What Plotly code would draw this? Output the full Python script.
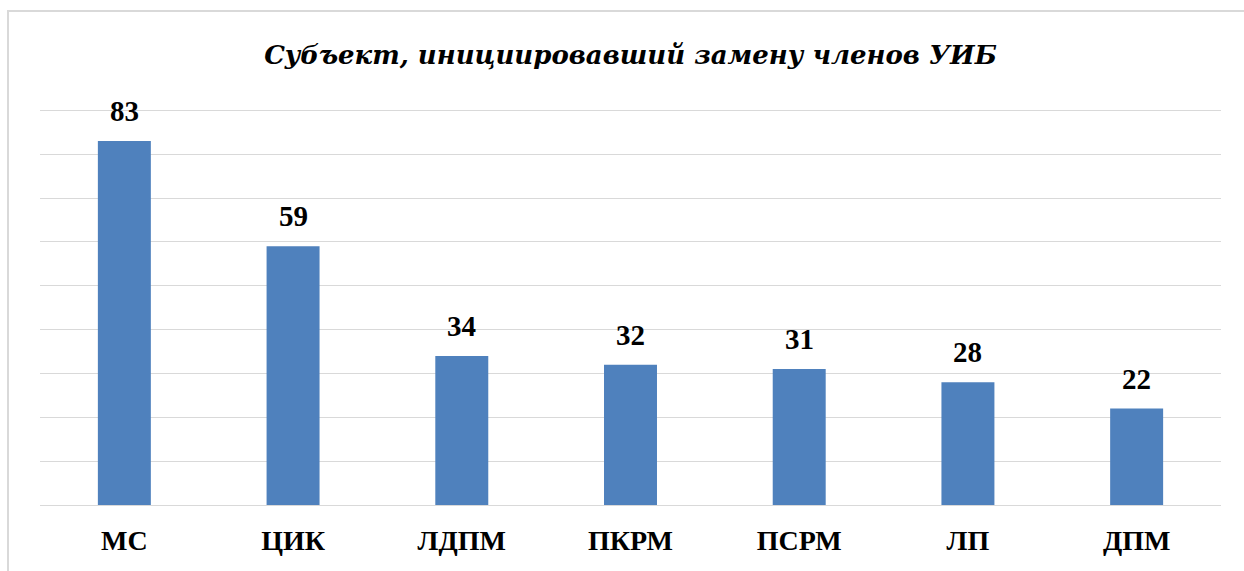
import plotly.graph_objects as go

categories = ["МС", "ЦИК", "ЛДПМ", "ПКРМ", "ПСРМ", "ЛП", "ДПМ"]
values = [83, 59, 34, 32, 31, 28, 22]
title_text = "Субъект, инициировавший замену членов УИБ"

serif = "'Liberation Serif', 'DejaVu Serif', serif"
title_font = "'DejaVu Serif', serif"

fig = go.Figure(
    go.Bar(
        x=categories,
        y=values,
        marker=dict(color="#4F81BD", line=dict(width=0)),
        cliponaxis=False,
        hoverinfo="x+y",
    )
)

for c, v in zip(categories, values):
    fig.add_annotation(
        x=c, y=v, xref="x", yref="y",
        text="<b>" + str(v) + "</b>",
        showarrow=False,
        yanchor="bottom",
        yshift=12,
        font=dict(family=serif, size=29, color="#000000"),
    )

fig.update_layout(
    width=1244,
    height=571,
    margin=dict(l=40, r=23, t=106, b=66),
    paper_bgcolor="#FFFFFF",
    plot_bgcolor="#FFFFFF",
    bargap=0.686,
    showlegend=False,
    title=dict(
        text="<b><i>" + title_text + "</i></b>",
        x=0.5,
        xref="paper",
        xanchor="center",
        y=1 - 55 / 571,
        yref="container",
        yanchor="middle",
        font=dict(family=title_font, size=26, color="#000000"),
    ),
    xaxis=dict(
        showgrid=False,
        showline=False,
        ticks="",
        tickfont=dict(family=serif, size=28, color="#000000", weight="bold"),
        ticklabelstandoff=16,
    ),
    yaxis=dict(
        range=[0, 91],
        tickvals=[0, 10, 20, 30, 40, 50, 60, 70, 80, 90],
        showgrid=True,
        gridcolor="#D9D9D9",
        gridwidth=1,
        showticklabels=False,
        zeroline=True,
        zerolinecolor="#D9D9D9",
        zerolinewidth=1,
        showline=False,
        ticks="",
    ),
    shapes=[
        dict(
            type="rect",
            xref="paper",
            yref="paper",
            x0=(8 - 40) / 1181,
            x1=(1260 - 40) / 1181,
            y0=(505 - 590) / 399,
            y1=(505 - 11) / 399,
            line=dict(color="#D9D9D9", width=2),
            fillcolor="rgba(0,0,0,0)",
            layer="below",
        )
    ],
)

fig.write_html(
    "out.html",
    config={"displayModeBar": False},
    post_script="document.body.style.margin='0';document.body.style.overflow='hidden';",
)
